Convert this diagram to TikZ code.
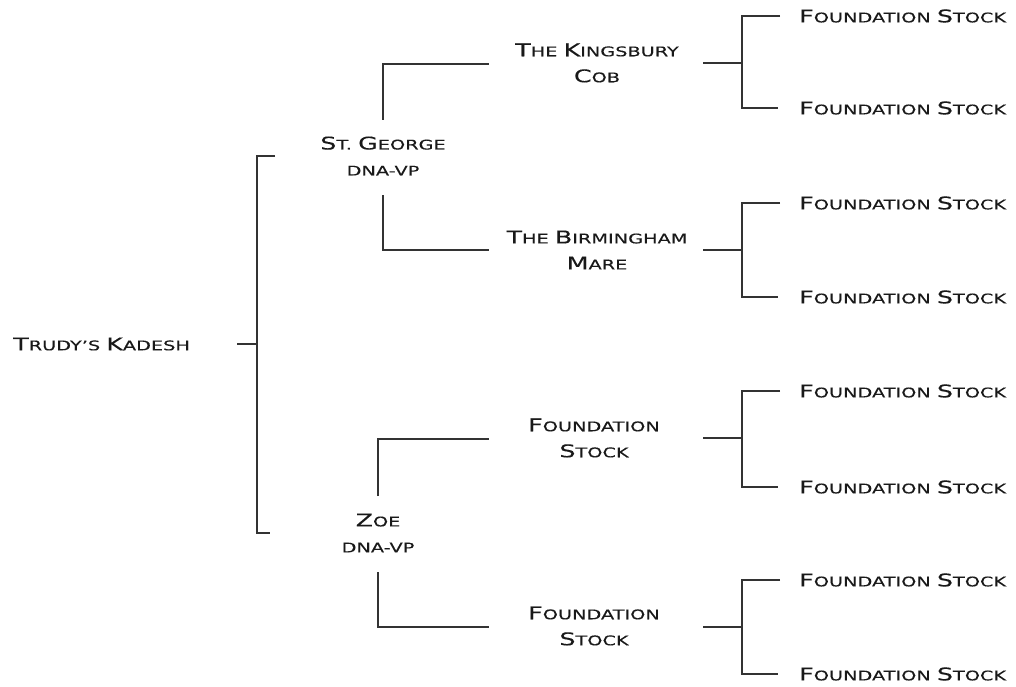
\documentclass[tikz,border=0pt]{standalone}
\usepackage{fontspec}
\setmainfont{DejaVu Sans}[FakeStretch=1.45,FakeBold=0.2]
\newcommand\BL[1]{{\fontsize{17.5}{19}\selectfont #1}}
\begin{document}
\begin{tikzpicture}[x=1pt,y=-1pt,
  lbl/.style={font=\fontsize{13.3}{26}\selectfont, text=black!90, align=center, inner sep=0pt},
  leaf/.style={lbl, anchor=west},
  conn/.style={draw=black!80, line width=1.4pt}]
\useasboundingbox (0,0) rectangle (1016,687);
% nodes
\node[lbl, anchor=west] (trudy) at (13,344) {\BL{T}RUDY'S \BL{K}ADESH};
\node[lbl] (stg) at (383,156) {\BL{S}T. \BL{G}EORGE\\DNA-VP};
\node[lbl] (king) at (597,63) {\BL{T}HE \BL{K}INGSBURY\\\BL{C}OB};
\node[lbl] (birm) at (597,250) {\BL{T}HE \BL{B}IRMINGHAM\\\BL{M}ARE};
\node[lbl] (zoe) at (378,533) {\BL{Z}OE\\DNA-VP};
\node[lbl] (fsa) at (594,438) {\BL{F}OUNDATION\\\BL{S}TOCK};
\node[lbl] (fsb) at (594,626) {\BL{F}OUNDATION\\\BL{S}TOCK};
\foreach \i/\y in {1/16,2/108,3/203,4/297,5/391,6/487,7/580,8/674}
  \node[leaf] (l\i) at (799,\y) {\BL{F}OUNDATION \BL{S}TOCK};
% coordinates
\coordinate (t0) at (237,344);
\coordinate (t1) at (257,344);
\coordinate (bt) at (275,156);
\coordinate (bb) at (270,533);
\coordinate (s0) at (383,120);
\coordinate (s1) at (383,195);
\coordinate (z0) at (378,496);
\coordinate (z1) at (378,572);
% left bracket
\draw[conn] (t0) -- (t1);
\draw[conn] (bt) -| (t1) |- (bb);
% sire/dam lines
\draw[conn] (s0) -- (383,64) -- (489,64);
\draw[conn] (s1) -- (383,250) -- (489,250);
\draw[conn] (z0) -- (378,439) -- (489,439);
\draw[conn] (z1) -- (378,627) -- (489,627);
% right brackets
\foreach \m/\a/\b in {63/1/2,250/3/4,438/5/6,627/7/8}{
  \draw[conn] (703,\m) -- (742,\m);
  \draw[conn] ([xshift=-19pt]l\a.west) -| (742,\m) |- ([xshift=-21pt]l\b.west);
}
\end{tikzpicture}
\end{document}
